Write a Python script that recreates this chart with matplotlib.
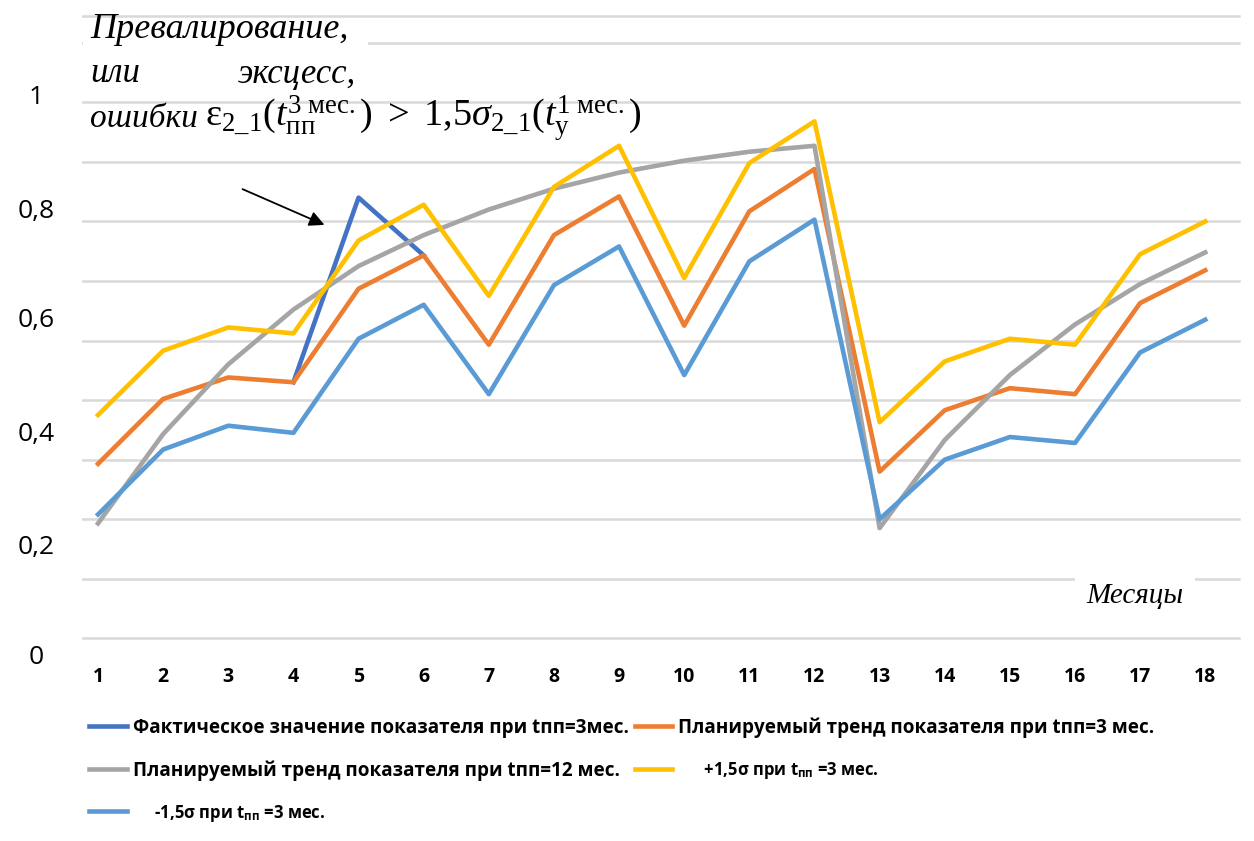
import numpy as np
import matplotlib
matplotlib.use("Agg")
import matplotlib.pyplot as plt
from matplotlib.patches import Rectangle

plt.rcParams["font.family"] = ["Open Sans", "DejaVu Sans"]
plt.rcParams["mathtext.fontset"] = "custom"
plt.rcParams["mathtext.rm"] = "Liberation Serif"
plt.rcParams["mathtext.it"] = "Liberation Serif:italic"
plt.rcParams["mathtext.bf"] = "Open Sans:bold"

# months 1..18
months = list(range(1, 19))

# actual value (only months 4-6 shown)
actual = [np.nan, np.nan, np.nan, 0.430, 0.740, 0.643] + [np.nan] * 12
plan_3 = [0.293, 0.402, 0.438, 0.430, 0.587, 0.643, 0.493, 0.677, 0.742,
          0.525, 0.717, 0.788, 0.280, 0.383, 0.420, 0.410, 0.563, 0.618]
plan_12 = [0.193, 0.343, 0.460, 0.552, 0.625, 0.677, 0.720, 0.755, 0.782,
           0.802, 0.817, 0.827, 0.185, 0.333, 0.442, 0.527, 0.595, 0.648]
upper = [0.375, 0.483, 0.522, 0.512, 0.668, 0.728, 0.575, 0.758, 0.827,
         0.605, 0.798, 0.868, 0.363, 0.465, 0.503, 0.493, 0.645, 0.700]
lower = [0.208, 0.317, 0.357, 0.345, 0.503, 0.560, 0.410, 0.593, 0.658,
         0.442, 0.633, 0.703, 0.200, 0.300, 0.338, 0.328, 0.480, 0.535]

# y labels sit a bit off the gridlines in the original picture
ytick_pos = [-0.028, 0.158, 0.347, 0.538, 0.722, 0.913]
ytick_lab = ["0", "0,2", "0,4", "0,6", "0,8", "1"]
grid_vals = np.round(np.arange(0, 1.01, 0.1), 2)
top_line = 1.045

W, H = 1254, 841
fig = plt.figure(figsize=(W / 100, H / 100), dpi=100)
ax = fig.add_axes([82 / W, (H - 655) / H, (1245 - 82) / W, 645 / H])
ax.set_xlim(0.754, 18.61)
ax.set_ylim(-0.02, 1.055)

for g in list(grid_vals) + [top_line]:
    ax.axhline(g, xmin=0, xmax=0.995, color="#d9d9d9", lw=1.8, zorder=1)

lw = 3.3
l_act, = ax.plot(months, actual, color="#4472C4", lw=lw, zorder=3,
                 label="Фактическое значение показателя при tпп=3мес.")
l_p3, = ax.plot(months, plan_3, color="#ED7D31", lw=lw, zorder=3,
                label="Планируемый тренд показателя при tпп=3 мес.")
l_p12, = ax.plot(months, plan_12, color="#A5A5A5", lw=lw, zorder=3,
                 label="Планируемый тренд показателя при tпп=12 мес.")
l_up, = ax.plot(months, upper, color="#FFC000", lw=lw, zorder=3,
                label="      +1,5σ при t$_{\\mathbf{пп}}$ =3 мес.")
l_lo, = ax.plot(months, lower, color="#5B9BD5", lw=lw, zorder=3,
                label="     -1,5σ при t$_{\\mathbf{пп}}$ =3 мес.")

for s in ax.spines.values():
    s.set_visible(False)

ax.set_xticks(months)
ax.set_xticklabels([str(m) for m in months], fontweight="bold", fontsize=14)
ax.tick_params(axis="x", length=0, pad=9)
ax.set_yticks(ytick_pos)
ax.set_yticklabels(ytick_lab, fontsize=19)
for t in ax.get_yticklabels():
    t.set_horizontalalignment("center")
ax.tick_params(axis="y", length=0, pad=33)

def fx(px):
    return px / W

def fy(py):
    return 1 - py / H

# white box behind the annotation text
fig.add_artist(Rectangle((fx(83), fy(92)), fx(368) - fx(83), fy(22) - fy(92),
                         transform=fig.transFigure, facecolor="white",
                         edgecolor="none", zorder=2))

serif = "Liberation Serif"
fig.text(fx(90), fy(30), "Превалирование,", family=serif, style="italic",
         fontsize=26, va="center", ha="left", zorder=5)
fig.text(fx(90), fy(74), "или", family=serif, style="italic",
         fontsize=25, va="center", ha="left", zorder=5)
fig.text(fx(356), fy(74), "эксцесс,", family=serif, style="italic",
         fontsize=25, va="center", ha="right", zorder=5)
fig.text(fx(90), fy(119), "ошибки", family=serif, style="italic",
         fontsize=24, va="center", ha="left", zorder=5)
fig.text(fx(205), fy(119),
         "$\\mathrm{\\varepsilon}_{\\mathrm{2\\_1}}(t^{\\mathrm{3\\ мес.}}_{\\mathrm{пп}})"
         "\\ >\\ \\mathrm{1{,}5}\\sigma_{\\mathrm{2\\_1}}(t^{\\mathrm{1\\ мес.}}_{\\mathrm{у}})$",
         fontsize=27.5, va="center", ha="left", zorder=5)

ax.annotate("", xy=(327, H - 226), xycoords="figure pixels",
            xytext=(240, H - 188), textcoords="figure pixels",
            arrowprops=dict(arrowstyle="-|>,head_length=0.9,head_width=0.45",
                            color="black", lw=1.3))

ax.text(fx(1135), fy(596), "Месяцы", transform=fig.transFigure, family=serif,
        style="italic", fontsize=21, ha="center", va="center", zorder=5,
        bbox=dict(facecolor="white", edgecolor="none", pad=8))

leg = fig.legend(handles=[l_act, l_p12, l_lo, l_p3, l_up], ncol=2,
                 loc="upper left", bbox_to_anchor=(fx(80), fy(708)),
                 frameon=False, borderpad=0, handlelength=2.0,
                 handletextpad=0.3, columnspacing=0.3, labelspacing=1.18,
                 prop=dict(weight="bold", size=13.6))
for t in leg.get_texts()[2:3] + leg.get_texts()[4:5]:
    t.set_fontsize(12)

fig.savefig("out.png", dpi=100)
